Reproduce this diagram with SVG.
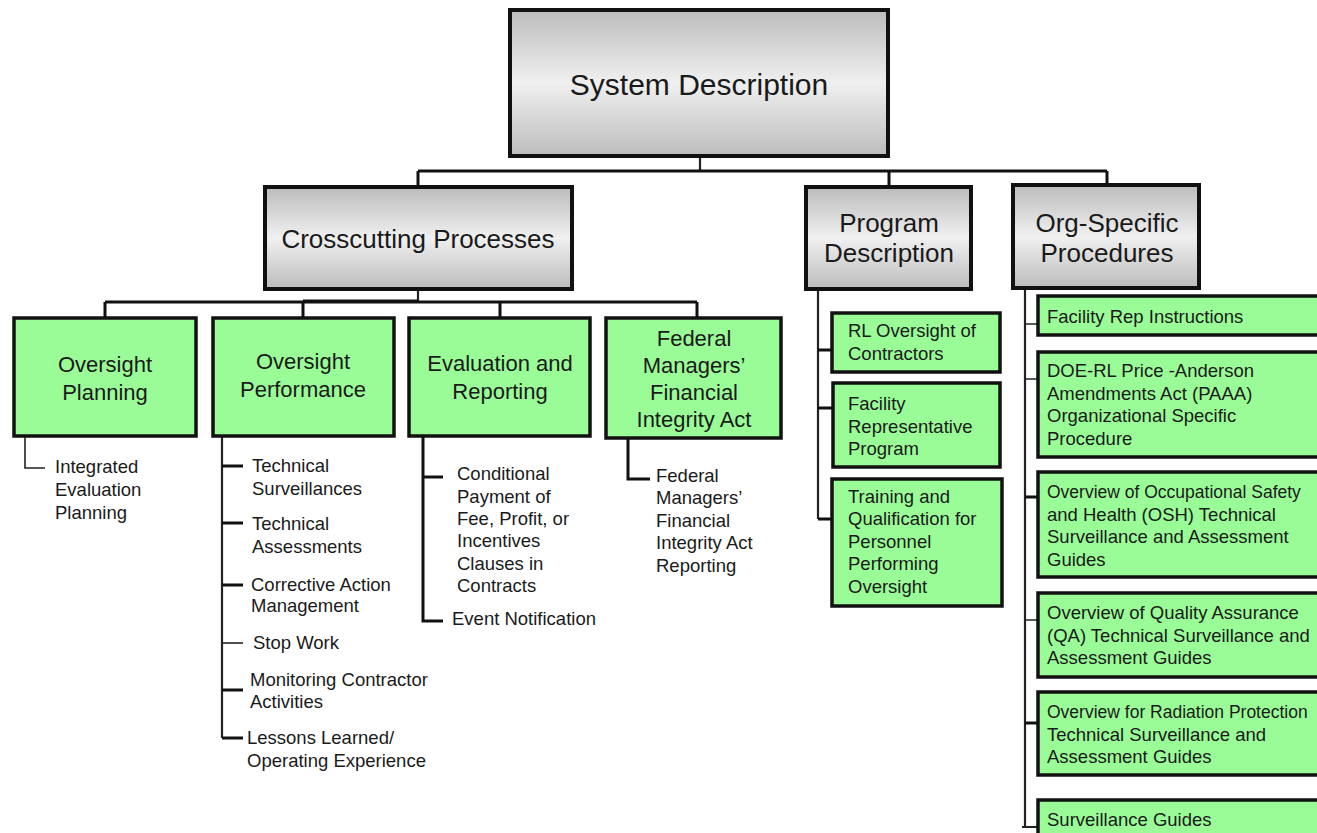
<svg xmlns="http://www.w3.org/2000/svg" width="1317" height="833" viewBox="0 0 1317 833">
<defs>
<linearGradient id="gray" x1="0" y1="0" x2="0" y2="1">
<stop offset="0" stop-color="#bcbcbc"/>
<stop offset="0.5" stop-color="#f0f0f0"/>
<stop offset="1" stop-color="#bcbcbc"/>
</linearGradient>
<style>
.gbox{fill:url(#gray);stroke:#111;stroke-width:4}
.green{fill:#99fc97;stroke:#111;stroke-width:3.5}
.t{font-family:"Liberation Sans",Arial,sans-serif;fill:#1a1a1a}
.h0{font-size:30px;text-anchor:middle}
.h1{font-size:26px;text-anchor:middle}
.h2{font-size:22px;text-anchor:middle}
.s{font-size:18.5px}
.sn{font-size:17.5px}
.ln{fill:none;stroke:#111;stroke-width:3}
.thin{fill:none;stroke:#222;stroke-width:1.6}
.mid{fill:none;stroke:#222;stroke-width:2.2}
</style>
</defs>
<rect width="1317" height="833" fill="#fff"/>

<g id="connectors">
<path class="mid" d="M700 156 V171"/>
<path class="ln" d="M418 171 H1107 M418 171 V186 M889 171 V187 M1107 171 V185"/>
<path class="mid" d="M418 289 V302"/>
<path class="ln" d="M105 302 H697 M105 302 V318 M303 302 V318 M500 302 V318 M697 302 V318"/>
<path class="ln" d="M303 301 H418" stroke-width="5"/>
<path class="thin" d="M25 436 V468 H45"/>
<path class="mid" d="M222 436 V738"/>
<path class="ln" d="M222 466 H243 M222 523 H243 M222 585 H243 M222 690 H243 M222 738 H243"/>
<path class="thin" d="M222 643 H243"/>
<path class="ln" d="M423 436 V621 H443 M423 477 H443"/>
<path class="ln" d="M628 438 V479 H650"/>
<path class="mid" d="M818 289 V519"/>
<path class="ln" d="M818 350 H832 M818 408 H833 M818 519 H832"/>
<path class="mid" d="M1025 288 V827 H1038 M1022 827 H1025"/>
<path class="thin" d="M1025 324 H1038 M1025 379 H1038 M1025 620 H1038"/>
<path class="ln" d="M1025 497 H1038 M1025 723 H1038"/>
</g>

<g id="system-description">
<rect class="gbox" x="510" y="10" width="378" height="146"/>
<text class="t h0" x="699" y="95">System Description</text>
</g>

<g id="crosscutting">
<rect class="gbox" x="265" y="187" width="307" height="102"/>
<text class="t h1" x="418" y="248">Crosscutting Processes</text>
</g>

<g id="program-description">
<rect class="gbox" x="806" y="187" width="165" height="102"/>
<text class="t h1" x="889" y="232">Program</text>
<text class="t h1" x="889" y="262">Description</text>
</g>

<g id="org-specific">
<rect class="gbox" x="1013" y="185" width="186" height="103"/>
<text class="t h1" x="1107" y="232">Org-Specific</text>
<text class="t h1" x="1107" y="262">Procedures</text>
</g>

<g id="oversight-planning">
<rect class="green" x="14" y="318" width="182" height="118"/>
<text class="t h2" x="105" y="372">Oversight</text>
<text class="t h2" x="105" y="400">Planning</text>
</g>

<g id="oversight-performance">
<rect class="green" x="213" y="318" width="181" height="118"/>
<text class="t h2" x="303" y="369">Oversight</text>
<text class="t h2" x="303" y="397">Performance</text>
</g>

<g id="evaluation-reporting">
<rect class="green" x="409" y="318" width="181" height="118"/>
<text class="t h2" x="500" y="371">Evaluation and</text>
<text class="t h2" x="500" y="399">Reporting</text>
</g>

<g id="fmfia">
<rect class="green" x="606" y="318" width="175" height="120"/>
<text class="t h2" x="694" y="346">Federal</text>
<text class="t h2" x="694" y="373">Managers’</text>
<text class="t h2" x="694" y="400">Financial</text>
<text class="t h2" x="694" y="427">Integrity Act</text>
</g>

<g id="leaf-integrated">
<text class="t s" x="55" y="473">Integrated</text>
<text class="t s" x="55" y="496">Evaluation</text>
<text class="t s" x="55" y="519">Planning</text>
</g>

<g id="leaf-tech-surv">
<text class="t s" x="252" y="472">Technical</text>
<text class="t s" x="252" y="495">Surveillances</text>
</g>
<g id="leaf-tech-assess">
<text class="t s" x="252" y="530">Technical</text>
<text class="t s" x="252" y="553">Assessments</text>
</g>
<g id="leaf-corrective">
<text class="t s" x="251" y="591">Corrective Action</text>
<text class="t s" x="251" y="612">Management</text>
</g>
<g id="leaf-stop-work">
<text class="t s" x="253" y="649">Stop Work</text>
</g>
<g id="leaf-monitoring">
<text class="t s" x="250" y="686">Monitoring Contractor</text>
<text class="t s" x="250" y="708">Activities</text>
</g>
<g id="leaf-lessons">
<text class="t s" x="247" y="744">Lessons Learned/</text>
<text class="t s" x="247" y="767">Operating Experience</text>
</g>

<g id="leaf-conditional">
<text class="t s" x="457" y="480">Conditional</text>
<text class="t s" x="457" y="503">Payment of</text>
<text class="t s" x="457" y="525">Fee, Profit, or</text>
<text class="t s" x="457" y="547">Incentives</text>
<text class="t s" x="457" y="570">Clauses in</text>
<text class="t s" x="457" y="592">Contracts</text>
</g>
<g id="leaf-event">
<text class="t s" x="452" y="625">Event Notification</text>
</g>

<g id="leaf-fmfia-reporting">
<text class="t s" x="656" y="482">Federal</text>
<text class="t s" x="656" y="504">Managers’</text>
<text class="t s" x="656" y="527">Financial</text>
<text class="t s" x="656" y="549">Integrity Act</text>
<text class="t s" x="656" y="572">Reporting</text>
</g>

<g id="rl-oversight">
<rect class="green" x="832" y="313" width="168" height="59"/>
<text class="t s" x="848" y="337">RL Oversight of</text>
<text class="t s" x="848" y="360">Contractors</text>
</g>
<g id="facility-rep-program">
<rect class="green" x="833" y="383" width="167" height="84"/>
<text class="t s" x="848" y="410">Facility</text>
<text class="t s" x="848" y="433">Representative</text>
<text class="t s" x="848" y="455">Program</text>
</g>
<g id="training">
<rect class="green" x="832" y="479" width="170" height="127"/>
<text class="t s" x="848" y="503">Training and</text>
<text class="t s" x="848" y="525">Qualification for</text>
<text class="t s" x="848" y="548">Personnel</text>
<text class="t s" x="848" y="570">Performing</text>
<text class="t s" x="848" y="593">Oversight</text>
</g>

<g id="facility-rep-instructions">
<rect class="green" x="1038" y="296" width="300" height="39"/>
<text class="t s" x="1047" y="323">Facility Rep Instructions</text>
</g>
<g id="paaa">
<rect class="green" x="1038" y="352" width="300" height="105"/>
<text class="t s" x="1047" y="377">DOE-RL Price -Anderson</text>
<text class="t s" x="1047" y="400">Amendments Act (PAAA)</text>
<text class="t s" x="1047" y="422">Organizational Specific</text>
<text class="t s" x="1047" y="445">Procedure</text>
</g>
<g id="osh">
<rect class="green" x="1038" y="472" width="300" height="105"/>
<text class="t sn" x="1047" y="498">Overview of Occupational Safety</text>
<text class="t s" x="1047" y="521">and Health (OSH) Technical</text>
<text class="t s" x="1047" y="543">Surveillance and Assessment</text>
<text class="t s" x="1047" y="566">Guides</text>
</g>
<g id="qa">
<rect class="green" x="1038" y="593" width="300" height="84"/>
<text class="t s" x="1047" y="619">Overview of Quality Assurance</text>
<text class="t s" x="1047" y="642">(QA) Technical Surveillance and</text>
<text class="t s" x="1047" y="664">Assessment Guides</text>
</g>
<g id="radiation">
<rect class="green" x="1038" y="692" width="300" height="83"/>
<text class="t sn" x="1047" y="718">Overview for Radiation Protection</text>
<text class="t s" x="1047" y="741">Technical Surveillance and</text>
<text class="t s" x="1047" y="763">Assessment Guides</text>
</g>
<g id="surveillance-guides">
<rect class="green" x="1038" y="800" width="300" height="50"/>
<text class="t s" x="1047" y="826">Surveillance Guides</text>
</g>
</svg>
